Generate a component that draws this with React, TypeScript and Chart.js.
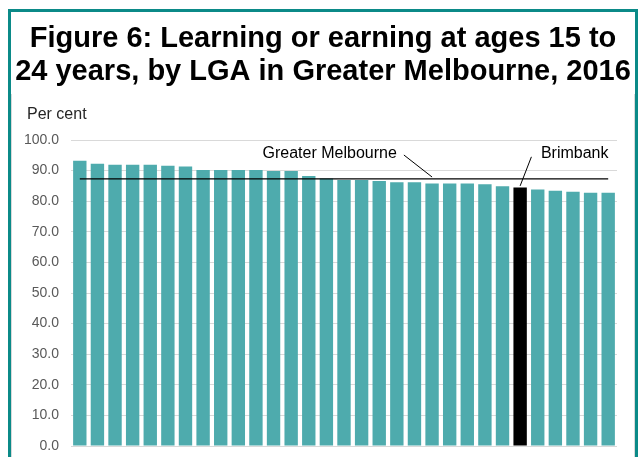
import React, { useEffect, useRef } from "react";
import { Chart, registerables } from "chart.js";

Chart.register(...registerables);

const titleLines = [
  "Figure 6: Learning or earning at ages 15 to",
  "24 years, by LGA in Greater Melbourne, 2016",
];
const yAxisTitle = "Per cent";

const lgaLabels = [
  "LGA 1", "LGA 2", "LGA 3", "LGA 4", "LGA 5", "LGA 6", "LGA 7", "LGA 8",
  "LGA 9", "LGA 10", "LGA 11", "LGA 12", "LGA 13", "LGA 14", "LGA 15", "LGA 16",
  "LGA 17", "LGA 18", "LGA 19", "LGA 20", "LGA 21", "LGA 22", "LGA 23", "LGA 24",
  "LGA 25", "Brimbank", "LGA 27", "LGA 28", "LGA 29", "LGA 30", "LGA 31",
];
const lgaValues = [
  93.2, 92.2, 91.9, 91.9, 91.9, 91.6, 91.3, 90.2, 90.2, 90.2, 90.2, 89.9, 89.9,
  88.2, 87.4, 86.9, 86.9, 86.6, 86.2, 86.2, 85.8, 85.8, 85.8, 85.5, 84.9, 84.5,
  83.8, 83.4, 83.1, 82.8, 82.8,
];
const greaterMelbourneValue = 87.3;
const highlightLabel = "Brimbank";

const yTicksMin = 0;
const yTicksMax = 100;
const yTicksStep = 10;

const BAR_COLOR = "#4EABAD";
const HIGHLIGHT_COLOR = "#000000";
const FRAME_COLOR = "#0B8A88";
const FONT = "'Liberation Sans', Arial, sans-serif";

const titlePlugin = {
  id: "customTitle",
  afterDraw(chart: any) {
    const { ctx, width } = chart;
    ctx.save();
    ctx.font = `bold 29px ${FONT}`;
    ctx.fillStyle = "#000000";
    ctx.textAlign = "center";
    ctx.textBaseline = "alphabetic";
    ctx.fillText(titleLines[0], width / 2, 35);
    ctx.fillText(titleLines[1], width / 2, 68);
    ctx.restore();
  },
};

const annotationPlugin = {
  id: "annotations",
  afterDatasetsDraw(chart: any) {
    const { ctx, chartArea, scales } = chart;
    const x = scales.x;
    const y = scales.y;
    ctx.save();
    ctx.font = `16px ${FONT}`;
    ctx.fillStyle = "#262626";
    ctx.textAlign = "left";
    ctx.textBaseline = "middle";
    ctx.fillText(yAxisTitle, chartArea.left - 44, chartArea.top - 25);

    ctx.fillStyle = "#000000";
    ctx.textAlign = "right";
    ctx.fillText("Greater Melbourne", x.getPixelForValue(18), y.getPixelForValue(95.4));
    ctx.strokeStyle = "#000000";
    ctx.lineWidth = 1;
    ctx.beginPath();
    ctx.moveTo(x.getPixelForValue(18.4), y.getPixelForValue(95.1));
    ctx.lineTo(x.getPixelForValue(20), y.getPixelForValue(87.9));
    ctx.stroke();

    const bi = lgaLabels.indexOf(highlightLabel);
    ctx.textAlign = "center";
    ctx.fillText(highlightLabel, x.getPixelForValue(bi + 3.1), y.getPixelForValue(95.4));
    ctx.beginPath();
    ctx.moveTo(x.getPixelForValue(bi + 0.64), y.getPixelForValue(94.5));
    ctx.lineTo(x.getPixelForValue(bi), y.getPixelForValue(lgaValues[bi] + 0.5));
    ctx.stroke();
    ctx.restore();
  },
};

export default function App() {
  const canvasRef = useRef<HTMLCanvasElement | null>(null);

  useEffect(() => {
    document.body.style.overflow = "hidden";
    document.documentElement.style.overflow = "hidden";
    const canvas = canvasRef.current;
    if (!canvas) return;
    const chart = new Chart(canvas, {
      type: "bar",
      data: {
        labels: lgaLabels,
        datasets: [
          {
            type: "line",
            label: "Greater Melbourne",
            data: lgaLabels.map(() => greaterMelbourneValue),
            borderColor: "#000000",
            borderWidth: 1.3,
            pointRadius: 0,
            fill: false,
            order: 0,
          } as any,
          {
            type: "bar",
            label: "Per cent",
            data: lgaValues,
            backgroundColor: lgaLabels.map((l) =>
              l === highlightLabel ? HIGHLIGHT_COLOR : BAR_COLOR
            ),
            categoryPercentage: 1,
            barPercentage: 0.76,
            order: 1,
          },
        ],
      },
      options: {
        animation: false,
        responsive: false,
        maintainAspectRatio: false,
        layout: { padding: { left: 0, right: 18, top: 128, bottom: 21 } },
        plugins: {
          legend: { display: false },
          tooltip: { enabled: false },
          title: { display: false },
        },
        scales: {
          x: {
            display: false,
            offset: true,
            grid: { display: false },
          },
          y: {
            min: yTicksMin,
            max: yTicksMax,
            ticks: {
              stepSize: yTicksStep,
              padding: 12,
              color: "#595959",
              font: { family: FONT, size: 14 },
              callback: (v: any) => Number(v).toFixed(1),
            },
            grid: { color: "#D9D9D9", drawTicks: false, lineWidth: 1 },
            border: { display: false },
            afterFit: (scale: any) => {
              scale.width = 60;
            },
          },
        },
      },
      plugins: [annotationPlugin, titlePlugin],
    });
    return () => chart.destroy();
  }, []);

  return (
    <div
      style={{
        position: "fixed",
        left: 8,
        right: 0,
        top: 9,
        bottom: -20,
        border: `3px solid ${FRAME_COLOR}`,
        boxSizing: "border-box",
        background: "#ffffff",
      }}
    >
      <div
        style={{
          position: "absolute",
          left: 0,
          right: 0,
          top: 82,
          bottom: 0,
          borderLeft: "1px solid #D9D9D9",
          borderRight: "1px solid #D9D9D9",
        }}
      />
      <canvas
        ref={canvasRef}
        width={624}
        height={455}
        style={{ position: "absolute", left: 0, top: 0, width: 624, height: 455 }}
      />
    </div>
  );
}
